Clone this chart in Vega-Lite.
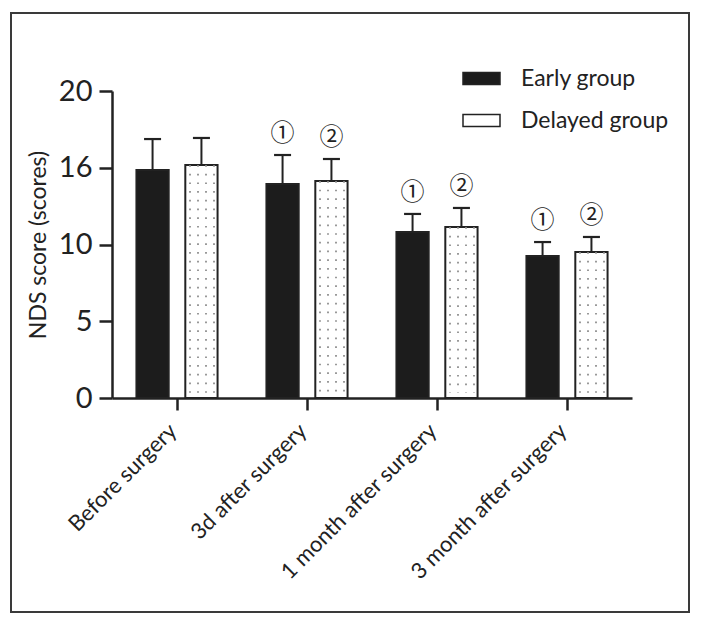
{
  "$schema": "https://vega.github.io/schema/vega-lite/v6.json",
  "width": 678,
  "height": 599,
  "autosize": {"type": "none"},
  "padding": {"left": 11, "top": 13, "right": 13, "bottom": 12},
  "background": "white",
  "config": {
    "view": {"stroke": "#3a3a3a", "strokeWidth": 2},
    "font": "Lato"
  },
  "data": {
    "values": [
      {"time": "Before surgery", "group": "Early group", "mean": 14.85, "upper": 16.87, "mark": ""},
      {"time": "Before surgery", "group": "Delayed group", "mean": 15.18, "upper": 16.94, "mark": ""},
      {"time": "3d after surgery", "group": "Early group", "mean": 13.94, "upper": 15.83, "mark": "①"},
      {"time": "3d after surgery", "group": "Delayed group", "mean": 14.14, "upper": 15.57, "mark": "②"},
      {"time": "1 month after surgery", "group": "Early group", "mean": 10.81, "upper": 11.99, "mark": "①"},
      {"time": "1 month after surgery", "group": "Delayed group", "mean": 11.14, "upper": 12.38, "mark": "②"},
      {"time": "3 month after surgery", "group": "Early group", "mean": 9.25, "upper": 10.16, "mark": "①"},
      {"time": "3 month after surgery", "group": "Delayed group", "mean": 9.51, "upper": 10.49, "mark": "②"}
    ]
  },
  "encoding": {
    "x": {
      "field": "time",
      "type": "nominal",
      "sort": ["Before surgery", "3d after surgery", "1 month after surgery", "3 month after surgery"],
      "scale": {"range": [101, 621], "paddingInner": 0, "paddingOuter": -0.045},
      "axis": {
        "title": null,
        "orient": "bottom",
        "offset": -214,
        "labelAngle": -45,
        "labelBaseline": "middle",
        "labelFontSize": 22,
        "labelLimit": 0,
        "labelColor": "#222",
        "labelPadding": 17,
        "labelOffset": -4,
        "tickSize": 12,
        "tickWidth": 2.5,
        "tickColor": "#222",
        "domainWidth": 2.5,
        "domainColor": "#222",
        "grid": false
      }
    }
  },
  "layer": [
    {
      "mark": {"type": "bar", "stroke": "#222", "strokeWidth": 2},
      "encoding": {
        "xOffset": {
          "field": "group",
          "type": "nominal",
          "sort": ["Early group", "Delayed group"],
          "scale": {"paddingInner": 0.34, "paddingOuter": 0.5}
        },
        "y": {
          "field": "mean",
          "type": "quantitative",
          "scale": {"domain": [0, 20], "range": [385, 78], "nice": false},
          "axis": {
            "values": [0, 5, 10, 15, 20],
            "labelExpr": "datum.value == 15 ? '16' : datum.label",
            "offset": -101,
            "title": "NDS score (scores)",
            "titleFontSize": 23,
            "titleFontWeight": "normal",
            "titleColor": "#222",
            "titlePadding": 8,
            "labelFontSize": 29,
            "labelColor": "#222",
            "labelPadding": 7,
            "tickSize": 13,
            "tickWidth": 2.5,
            "tickColor": "#222",
            "domainWidth": 2.5,
            "domainColor": "#222",
            "grid": false
          }
        },
        "color": {
          "field": "group",
          "type": "nominal",
          "sort": ["Early group", "Delayed group"],
          "scale": {"domain": ["Early group", "Delayed group"], "range": ["#1c1c1c", "#ffffff"]},
          "legend": {
            "orient": "none",
            "legendX": 451,
            "legendY": 46,
            "title": null,
            "symbolType": "M-1,-0.33H1V0.33H-1Z",
            "symbolSize": 1369,
            "symbolStrokeColor": "#222",
            "symbolStrokeWidth": 1.5,
            "labelFontSize": 23,
            "labelColor": "#222",
            "labelOffset": 20,
            "rowPadding": 10
          }
        }
      }
    },
    {
      "transform": [{"filter": "datum.group == 'Delayed group'"}],
      "mark": {"type": "rule", "xOffset": 13, "stroke": "#888", "strokeWidth": 1.7, "strokeDash": [1.7, 7]},
      "encoding": {"y": {"field": "mean", "type": "quantitative"}, "y2": {"datum": 0.35}}
    },
    {
      "transform": [{"filter": "datum.group == 'Delayed group'"}],
      "mark": {"type": "rule", "xOffset": 21, "stroke": "#888", "strokeWidth": 1.7, "strokeDash": [1.7, 7]},
      "encoding": {"y": {"field": "mean", "type": "quantitative"}, "y2": {"datum": 0.35}}
    },
    {
      "transform": [{"filter": "datum.group == 'Delayed group'"}],
      "mark": {"type": "rule", "xOffset": 29, "stroke": "#888", "strokeWidth": 1.7, "strokeDash": [1.7, 7]},
      "encoding": {"y": {"field": "mean", "type": "quantitative"}, "y2": {"datum": 0.35}}
    },
    {
      "transform": [{"filter": "datum.group == 'Delayed group'"}],
      "mark": {"type": "rule", "xOffset": 37, "stroke": "#888", "strokeWidth": 1.7, "strokeDash": [1.7, 7]},
      "encoding": {"y": {"field": "mean", "type": "quantitative"}, "y2": {"datum": 0.35}}
    },
    {
      "mark": {"type": "rule", "stroke": "#222", "strokeWidth": 2},
      "encoding": {
        "xOffset": {"field": "group", "type": "nominal", "sort": ["Early group", "Delayed group"]},
        "y": {"field": "mean", "type": "quantitative"},
        "y2": {"field": "upper"}
      }
    },
    {
      "mark": {"type": "tick", "color": "#222", "size": 17, "thickness": 2.2, "orient": "horizontal", "opacity": 1},
      "encoding": {
        "xOffset": {"field": "group", "type": "nominal", "sort": ["Early group", "Delayed group"]},
        "y": {"field": "upper", "type": "quantitative"}
      }
    },
    {
      "transform": [{"filter": "datum.mark != ''"}],
      "mark": {"type": "text", "font": "Noto Sans CJK SC", "fontSize": 24, "baseline": "middle", "dy": -21, "color": "#222"},
      "encoding": {
        "xOffset": {"field": "group", "type": "nominal", "sort": ["Early group", "Delayed group"]},
        "y": {"field": "upper", "type": "quantitative"},
        "text": {"field": "mark"}
      }
    }
  ]
}
